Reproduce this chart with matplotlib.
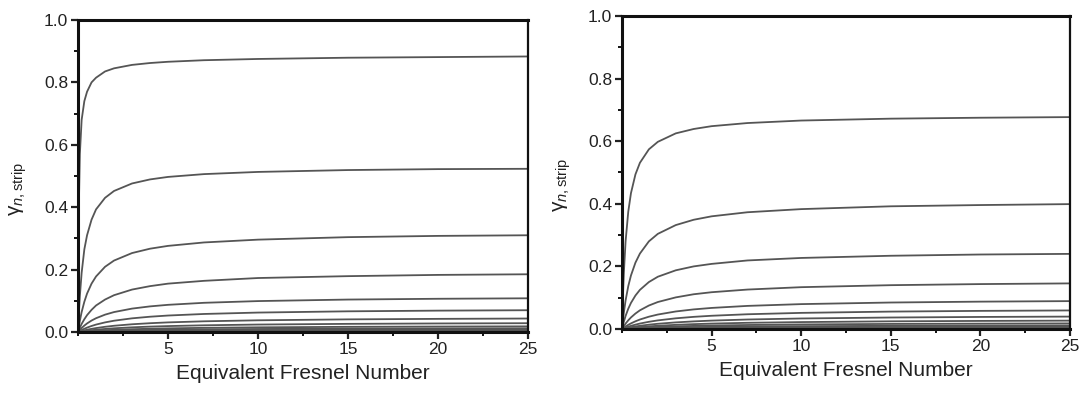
import numpy as np
import matplotlib
matplotlib.use("Agg")
import matplotlib.pyplot as plt
from matplotlib.ticker import MultipleLocator

plt.rcParams['font.family'] = ['Liberation Sans', 'DejaVu Sans']
plt.rcParams['mathtext.fontset'] = 'custom'
plt.rcParams['mathtext.rm'] = 'Liberation Sans'
plt.rcParams['mathtext.it'] = 'Liberation Sans:italic'

# Fresnel number samples (shared by all curves)
fresnel = [0, 0.05, 0.1, 0.2, 0.35, 0.5, 0.75, 1, 1.5, 2, 3, 4, 5, 7, 10, 15, 20, 25]

# left panel curves
left_curves = [
    [0, 0.42, 0.57, 0.68, 0.74, 0.77, 0.80, 0.815, 0.835, 0.845, 0.856, 0.862, 0.866, 0.871, 0.875, 0.879, 0.881, 0.883],
    [0, 0.065, 0.115, 0.19, 0.265, 0.31, 0.36, 0.393, 0.43, 0.452, 0.476, 0.489, 0.497, 0.506, 0.513, 0.519, 0.522, 0.523],
    [0, 0.019, 0.036, 0.064, 0.097, 0.123, 0.155, 0.178, 0.209, 0.229, 0.253, 0.267, 0.276, 0.287, 0.296, 0.304, 0.308, 0.310],
    [0, 0.007, 0.014, 0.026, 0.041, 0.054, 0.071, 0.085, 0.104, 0.118, 0.136, 0.147, 0.155, 0.164, 0.173, 0.179, 0.183, 0.185],
    [0, 0.0035, 0.0068, 0.0128, 0.0206, 0.0274, 0.0367, 0.0442, 0.0556, 0.0639, 0.075, 0.0821, 0.0871, 0.0936, 0.0991, 0.104, 0.1065, 0.108],
    [0, 0.0017, 0.0033, 0.0063, 0.0104, 0.0141, 0.0193, 0.0238, 0.0308, 0.0362, 0.0438, 0.049, 0.0528, 0.0578, 0.0623, 0.0663, 0.0685, 0.0698],
    [0, 0.00084, 0.00166, 0.0032, 0.0053, 0.0073, 0.0101, 0.0126, 0.0167, 0.020, 0.0248, 0.0282, 0.0308, 0.0343, 0.0375, 0.0405, 0.0421, 0.0432],
    [0, 0.00046, 0.00091, 0.0018, 0.003, 0.0041, 0.0058, 0.0073, 0.0098, 0.0119, 0.015, 0.0173, 0.019, 0.0215, 0.0239, 0.0261, 0.0274, 0.0282],
    [0, 0.00026, 0.00051, 0.001, 0.0017, 0.0023, 0.0033, 0.0042, 0.0057, 0.007, 0.009, 0.0105, 0.0117, 0.0134, 0.015, 0.0166, 0.0175, 0.0181],
    [0, 0.00015, 0.0003, 0.0006, 0.001, 0.0014, 0.002, 0.0025, 0.0035, 0.0043, 0.0056, 0.0066, 0.0074, 0.0085, 0.0097, 0.0108, 0.0114, 0.0119],
    [0, 0.0001, 0.0002, 0.0003, 0.0006, 0.0008, 0.0012, 0.0015, 0.0021, 0.0026, 0.0034, 0.004, 0.0045, 0.0053, 0.006, 0.0068, 0.0072, 0.0075],
    [0, 0.00007, 0.00013, 0.0002, 0.0004, 0.0005, 0.0008, 0.001, 0.0014, 0.0017, 0.0022, 0.0026, 0.003, 0.0035, 0.004, 0.0045, 0.0048, 0.005],
]

# right panel curves
right_curves = [
    [0, 0.101, 0.176, 0.28, 0.375, 0.434, 0.494, 0.531, 0.574, 0.598, 0.625, 0.639, 0.648, 0.658, 0.666, 0.672, 0.675, 0.677],
    [0, 0.0273, 0.0513, 0.0911, 0.137, 0.171, 0.212, 0.241, 0.28, 0.304, 0.332, 0.349, 0.36, 0.373, 0.383, 0.392, 0.396, 0.399],
    [0, 0.0119, 0.0227, 0.0417, 0.0648, 0.0833, 0.107, 0.125, 0.15, 0.167, 0.1875, 0.2, 0.208, 0.219, 0.227, 0.234, 0.238, 0.24],
    [0, 0.0047, 0.0091, 0.0172, 0.0277, 0.0369, 0.0494, 0.0597, 0.075, 0.0862, 0.101, 0.111, 0.1175, 0.126, 0.1336, 0.140, 0.1435, 0.1457],
    [0, 0.0022, 0.0042, 0.0081, 0.0133, 0.0179, 0.0246, 0.0303, 0.0393, 0.0462, 0.056, 0.0626, 0.0673, 0.0738, 0.0795, 0.0846, 0.0874, 0.0891],
    [0, 0.0012, 0.0023, 0.0044, 0.0073, 0.01, 0.0139, 0.0174, 0.023, 0.0275, 0.0341, 0.0388, 0.0423, 0.0471, 0.0515, 0.0556, 0.0579, 0.0593],
    [0, 0.00065, 0.0013, 0.0025, 0.0042, 0.0058, 0.0082, 0.0102, 0.0138, 0.0167, 0.0211, 0.0243, 0.0268, 0.0303, 0.0336, 0.0367, 0.0385, 0.0396],
    [0, 0.00038, 0.00075, 0.0015, 0.0025, 0.0034, 0.0049, 0.0062, 0.0085, 0.0103, 0.0133, 0.0155, 0.0173, 0.0198, 0.0221, 0.0245, 0.0258, 0.0267],
    [0, 0.00023, 0.00045, 0.0009, 0.0015, 0.0021, 0.003, 0.0038, 0.0053, 0.0065, 0.0084, 0.0099, 0.0111, 0.0128, 0.0146, 0.0162, 0.0171, 0.0179],
    [0, 0.00015, 0.0003, 0.00045, 0.0009, 0.0012, 0.0018, 0.0023, 0.0032, 0.0039, 0.0051, 0.006, 0.0068, 0.008, 0.009, 0.0102, 0.0108, 0.0113],
    [0, 0.0001, 0.00018, 0.00028, 0.00056, 0.0007, 0.0011, 0.0014, 0.002, 0.0024, 0.0031, 0.0036, 0.0042, 0.0049, 0.0056, 0.0063, 0.0067, 0.007],
    [0, 0.00007, 0.00013, 0.0002, 0.0004, 0.0005, 0.0008, 0.001, 0.0014, 0.0017, 0.0022, 0.0026, 0.003, 0.0035, 0.004, 0.0045, 0.0048, 0.005],
]

x_ticks = [5, 10, 15, 20, 25]
y_ticks = [0.0, 0.2, 0.4, 0.6, 0.8, 1.0]

fig = plt.figure(figsize=(10.84, 3.96), dpi=100)
ax1 = fig.add_axes([0.072, 0.1616, 0.415, 0.788])
ax2 = fig.add_axes([0.5738, 0.1692, 0.4133, 0.7904])

for ax, curves in [(ax1, left_curves), (ax2, right_curves)]:
    for c in curves:
        ax.plot(fresnel, c, color='#555555', linewidth=1.3)
    ax.set_xlim(0, 25)
    ax.set_ylim(0, 1.0)
    ax.set_xticks(x_ticks)
    ax.set_yticks(y_ticks)
    ax.set_yticklabels(['%.1f' % v for v in y_ticks])
    ax.xaxis.set_minor_locator(MultipleLocator(2.5))
    ax.yaxis.set_minor_locator(MultipleLocator(0.1))
    ax.tick_params(which='major', direction='out', length=5, width=1.6, labelsize=12.5, colors='#222222', pad=2)
    ax.tick_params(which='minor', direction='out', length=3, width=1.3)
    for name, s in ax.spines.items():
        s.set_color('#111111')
        s.set_linewidth(2.2 if name in ('left', 'bottom', 'top') else 1.6)
    ax.set_xlabel('Equivalent Fresnel Number', fontsize=15, color='#222222', labelpad=5)
    ax.set_ylabel(r'$\mathrm{\gamma}_{\mathit{n},\mathrm{strip}}$', fontsize=15, color='#222222')
    ax.yaxis.set_label_coords(-0.11, 0.46)

fig.savefig('out.png', dpi=100)
